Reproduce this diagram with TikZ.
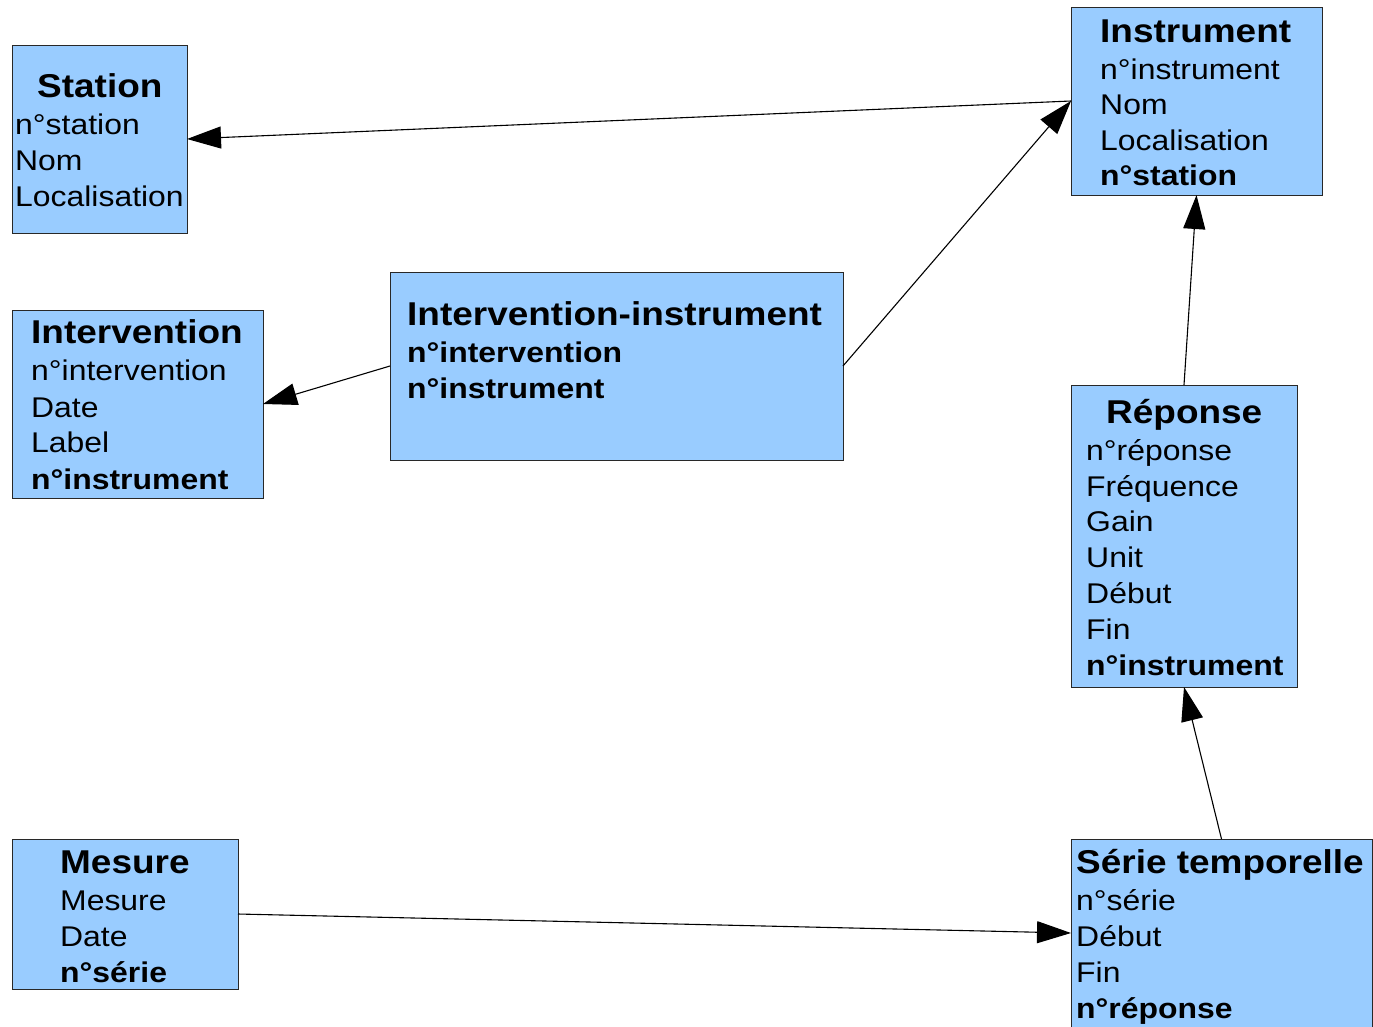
\documentclass[tikz,border=0pt]{standalone}
\usepackage{fontspec}
\setmainfont{Liberation Sans}[FakeStretch=1.12]
\usetikzlibrary{arrows.meta}
\definecolor{boxblue}{RGB}{153,204,255}
\definecolor{boxedge}{RGB}{40,40,40}
\tikzset{
  entity/.style={draw=boxedge, fill=boxblue, line width=0.9pt, anchor=north west,
    inner sep=0pt, outer sep=0pt},
  title/.style={anchor=base west, inner sep=0pt, font=\bfseries\fontsize{33}{36}\selectfont},
  attr/.style={anchor=base west, inner sep=0pt, font=\fontsize{28.5}{34}\selectfont},
  key/.style={attr, font=\bfseries\fontsize{28.5}{34}\selectfont},
  link/.style={line width=1.1pt, -{Triangle[length=34pt,width=22pt]}},
}
\begin{document}
\begin{tikzpicture}[x=1pt,y=-1pt]
\useasboundingbox (0,0) rectangle (1373,1026);

% entity boxes
\node[entity, minimum width=175pt, minimum height=188pt] (station) at (12,45) {};
\node[entity, minimum width=251pt, minimum height=188pt] (instrument) at (1071,7) {};
\node[entity, minimum width=251pt, minimum height=188pt] (intervention) at (12,310) {};
\node[entity, minimum width=453pt, minimum height=188pt] (intinst) at (390,272) {};
\node[entity, minimum width=226pt, minimum height=302pt] (reponse) at (1071,385) {};
\node[entity, minimum width=226pt, minimum height=150pt] (mesure) at (12,839) {};
\node[entity, minimum width=301pt, minimum height=188pt] (serie) at (1071,839) {};

% Station
\node[title] (st0) at (37,97) {Station};
\node[attr] (st1) at (15,134) {n°station};
\node[attr] (st2) at (15,170) {Nom};
\node[attr] (st3) at (15,206) {Localisation};

% Instrument
\node[title] (in0) at (1100,42) {Instrument};
\node[attr] (in1) at (1100,79) {n°instrument};
\node[attr] (in2) at (1100,114) {Nom};
\node[attr] (in3) at (1100,150) {Localisation};
\node[key] (in4) at (1100,185) {n°station};

% Intervention
\node[title] (iv0) at (31,343) {Intervention};
\node[attr] (iv1) at (31,380) {n°intervention};
\node[attr] (iv2) at (31,417) {Date};
\node[attr] (iv3) at (31,452) {Label};
\node[key] (iv4) at (31,489) {n°instrument};

% Intervention-instrument
\node[title] (ii0) at (407,325) {Intervention-instrument};
\node[key] (ii1) at (407,362) {n°intervention};
\node[key] (ii2) at (407,398) {n°instrument};

% Réponse
\node[title] (re0) at (1106,423) {Réponse};
\node[attr] (re1) at (1086,460) {n°réponse};
\node[attr] (re2) at (1086,496) {Fréquence};
\node[attr] (re3) at (1086,531) {Gain};
\node[attr] (re4) at (1086,567) {Unit};
\node[attr] (re5) at (1086,603) {Début};
\node[attr] (re6) at (1086,639) {Fin};
\node[key] (re7) at (1086,675) {n°instrument};

% Mesure
\node[title] (me0) at (60,873) {Mesure};
\node[attr] (me1) at (60,910) {Mesure};
\node[attr] (me2) at (60,946) {Date};
\node[key] (me3) at (60,982) {n°série};

% Série temporelle
\node[title] (se0) at (1076,873) {Série temporelle};
\node[attr] (se1) at (1076,910) {n°série};
\node[attr] (se2) at (1076,946) {Début};
\node[attr] (se3) at (1076,982) {Fin};
\node[key] (se4) at (1076,1018) {n°réponse};

% references between entities
\draw[link] (instrument.west) -- (station.east);
\draw[link] (intinst.east) -- (instrument.west);
\draw[link] (intinst.west) -- (intervention.east);
\draw[link] (reponse.north) -- (instrument.south);
\draw[link] (serie.north) -- (reponse.south);
\draw[link] (mesure.east) -- (serie.west);
\end{tikzpicture}
\end{document}
